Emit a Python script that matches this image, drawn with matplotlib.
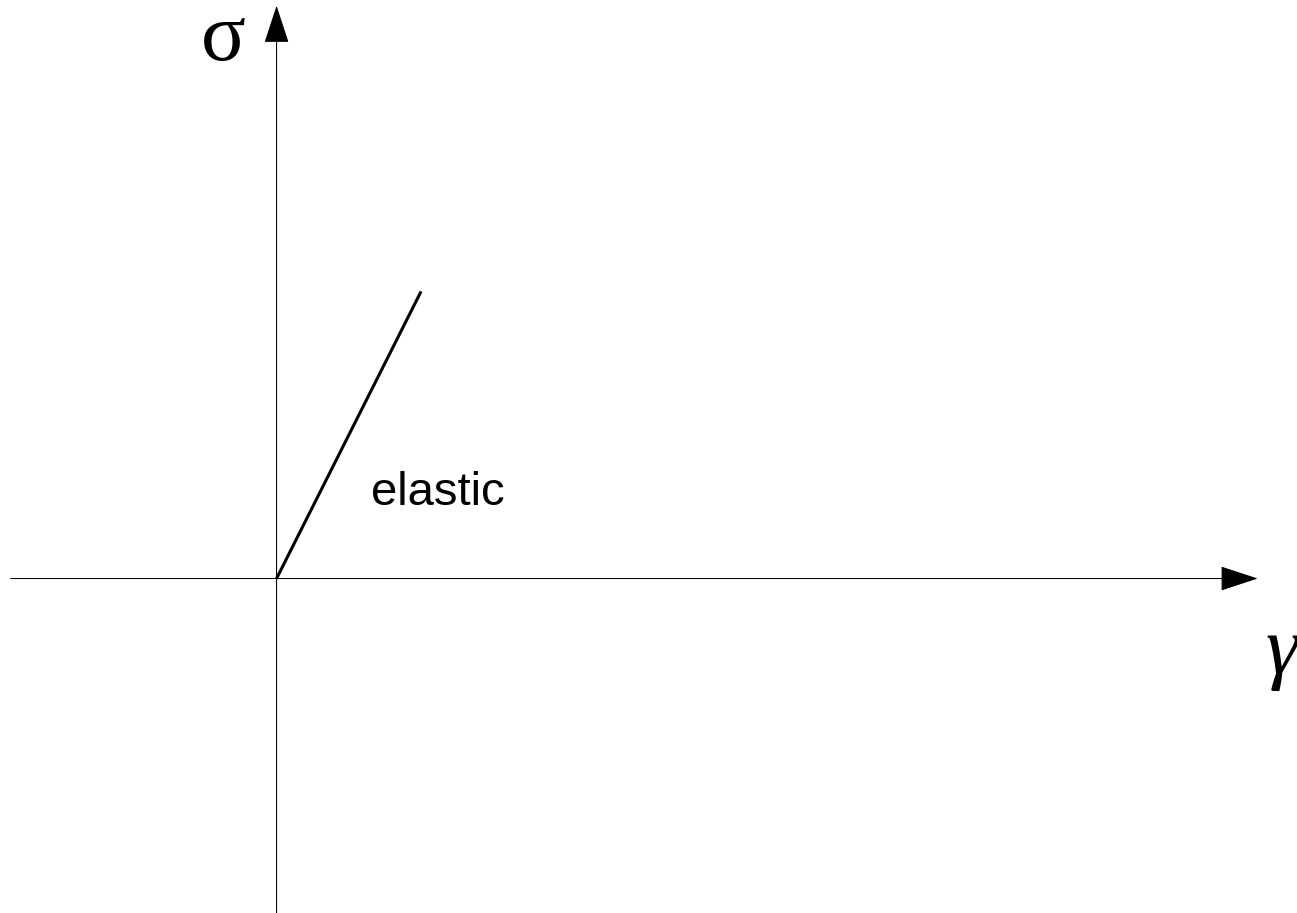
import matplotlib
matplotlib.use("Agg")
import matplotlib.pyplot as plt

# elastic branch of the stress-strain sketch
strain = [0.0, 1.0]
stress = [0.0, 2.0]

# axis extents (data units)
x_axis = [-1.84, 6.79]
y_axis = [-2.33, 3.99]

fig = plt.figure(figsize=(12.97, 9.13), dpi=100)
ax = fig.add_axes([0, 0, 1, 1])
ax.set_xlim(-1.914, 7.062)
ax.set_ylim(-2.33, 4.03)
ax.axis("off")

arrow = dict(arrowstyle="-|>,head_length=1.22,head_width=0.4",
             mutation_scale=20, lw=0.75, color="black",
             shrinkA=0, shrinkB=0)
ax.annotate("", xy=(x_axis[1], 0), xytext=(x_axis[0], 0), arrowprops=arrow)
ax.annotate("", xy=(0, y_axis[1]), xytext=(0, y_axis[0]), arrowprops=arrow)

ax.plot(strain, stress, color="black", lw=2.2, solid_capstyle="butt")

ax.text(0.654, 0.514, "elastic", fontsize=34, family="Liberation Sans",
        ha="left", va="baseline")
ax.text(-0.37, 3.75, "σ", fontsize=60, family="Liberation Serif",
        ha="center", va="center")
ax.text(6.96, -0.52, "γ", fontsize=60, family="Liberation Serif",
        style="italic", ha="center", va="center")

fig.savefig("out.png", dpi=100)
